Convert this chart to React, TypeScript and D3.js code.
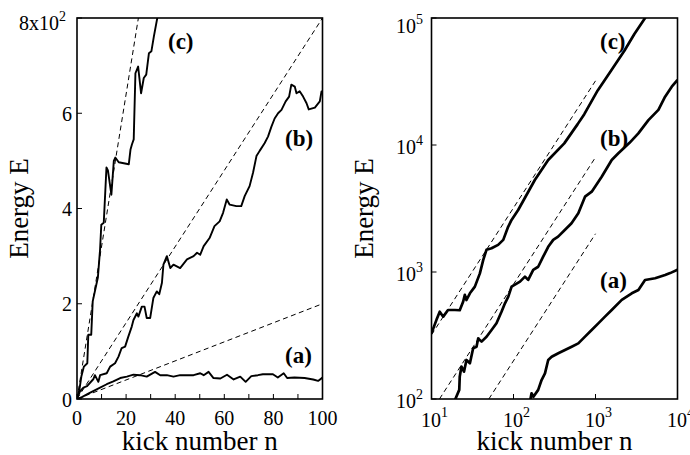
import React from 'react';
import * as d3 from 'd3';

// ---------- data ----------
// Left panel: linear, E vs n (n 0..100, E 0..800)
const linA: [number, number][] = [
  [0,0],[2,4],[4.8,12],[9.4,24],[12.1,31],[14.8,37],[17.6,44],[20.3,47],[23,51],[25.7,50],[28.4,47],
  [31.8,57],[33.9,50],[36.6,50],[39.3,47],[42,50],[44.8,50],[47.5,50],[50.2,54],[51.6,50],[53.6,57],
  [55.6,44],[58.4,43],[61.1,51],[63.8,41],[66.5,47],[68.7,36],[71,48],[73.7,50],[75.7,52],[79.8,52],
  [81.8,45],[84.2,54],[85.6,44],[88.6,45],[92.7,44],[96.2,41],[98.2,38],[100,45]
];
const linB: [number, number][] = [
  [0,0],[1.2,16],[2.6,24],[4.1,27],[6.7,42],[7.3,50],[8.7,36],[9.4,50],[12.1,54],[13.5,68],[15.5,75],
  [16.9,89],[18.2,107],[19.6,110],[20.9,131],[22.3,152],[23,166],[24.4,180],[25,173],[26.4,194],
  [27.5,194],[28.4,170],[29.8,170],[31.1,212],[32.5,226],[33.5,220],[34.6,244],[35.2,282],[36.6,300],
  [38,275],[39.3,282],[42,275],[44.8,293],[47.5,300],[48.9,307],[50.2,303],[51.6,321],[54,338],
  [56,363],[58.1,373],[59.5,391],[61,419],[62.2,408],[64.9,405],[66.9,405],[68.3,426],[70.3,447],
  [71.7,475],[73.1,510],[74.4,521],[76.4,537],[77.8,551],[79.2,572],[80.5,589],[81.9,600],[83.3,607],
  [85,625],[86.4,635],[87.3,660],[88.7,656],[89.4,642],[90.7,646],[92.1,635],[93.5,621],[94.4,608],
  [96.9,612],[98.9,625],[99.6,646],[100,646]
];
const linC: [number, number][] = [
  [0,0],[1,20],[1.8,48],[2.8,68],[4.2,75],[4.6,135],[5.8,135],[6.4,205],[8.5,255],[9.4,314],[9.9,366],
  [10.9,370],[12,486],[12.6,480],[14,429],[15,500],[15.6,507],[17,497],[21.1,493],[21.8,524],
  [22.4,535],[23.1,545],[23.8,684],[24.9,698],[26.1,642],[27.2,674],[28.2,681],[29.3,726],[30.3,730],
  [31.3,761],[32.7,800],[34,840]
];
// Right panel: log-log, E vs n (n 10..1e4, E 1e2..1e5)
const logA: [number, number][] = [
  [160,98],[166,111],[175,104],[200,118],[220,141],[242,159],[265,203],[292,215],[352,229],[424,243],
  [512,258],[617,274],[745,310],[898,349],[1082,394],[1305,445],[1577,502],[2090,603],[2770,680],
  [3335,722],[4020,865],[5330,893],[7060,946],[8130,980],[10000,1040]
];
const logB: [number, number][] = [
  [19.3,98],[21.8,118],[22.1,150],[23.2,180],[24.9,164],[26.7,203],[29.4,191],[32.2,251],[35.4,258],
  [37.1,300],[40.8,283],[46.9,309],[54,349],[62,395],[71.4,486],[78.7,567],[86.4,640],[94.8,767],
  [120,840],[138,920],[151,866],[174,1040],[200,1100],[230,1320],[265,1580],[305,1790],[350,1900],
  [425,2150],[510,2420],[617,2900],[745,3920],[900,4290],[1190,5620],[1577,7620],[1900,8600],
  [2600,10400],[3330,12350],[4420,15700],[5850,18900],[7060,24000],[8510,28800],[10000,32500]
];
const logC: [number, number][] = [
  [10,329],[11.5,420],[12.6,487],[13.9,445],[15.9,502],[19.3,502],[22.1,500],[24.3,583],[25.5,660],
  [26.7,602],[29.4,680],[33.8,767],[38.9,975],[42.7,1241],[46.8,1495],[54,1540],[64.9,1635],[75,1790],
  [86,2270],[94.7,2570],[114,3076],[182,5300],[265,7620],[416,10300],[606,14600],[730,17500],
  [1064,26900],[1546,38500],[2250,55200],[2980,74800],[3950,98000],[4100,102000]
];
// dashed reference lines E = D n
const slopes = [2, 8, 32];
const logDashRange: [number, number][] = [[50, 1000], [12.5, 1000], [10, 1000]];

const linXTicks = [0,10,20,30,40,50,60,70,80,90,100];
const linXLabels = [0,20,40,60,80,100];
const linYTicks = [0,200,400,600,800];
const linYLabels = ['0','2','4','6','8x10'];
const logXTicks = [10,100,1000,10000];
const logYTicks = [100,1000,10000,100000];

const FONT = "'Liberation Serif', 'Times New Roman', serif";

export default function App() {
  const top = 18, bottom = 399;
  const L = { x0: 77, x1: 322.5 };
  const R = { x0: 431.5, x1: 677.5 };

  const xl = d3.scaleLinear().domain([0, 100]).range([L.x0, L.x1]);
  const yl = d3.scaleLinear().domain([0, 800]).range([bottom, top]);
  const xr = d3.scaleLog().domain([10, 10000]).range([R.x0, R.x1]);
  const yr = d3.scaleLog().domain([100, 100000]).range([bottom, top]);

  const lineL = d3.line<[number, number]>().x(d => xl(d[0])).y(d => yl(d[1]));
  const lineR = d3.line<[number, number]>().x(d => xr(d[0])).y(d => yr(d[1]));

  const tick = 5;

  return (
    <svg width={690} height={455} style={{ position: 'absolute', left: 0, top: 0, background: '#fff' }}
      fontFamily={FONT}>
      <defs>
        <clipPath id="clipL"><rect x={L.x0} y={top} width={L.x1 - L.x0} height={bottom - top} /></clipPath>
        <clipPath id="clipR"><rect x={R.x0} y={top} width={R.x1 - R.x0} height={bottom - top} /></clipPath>
      </defs>
      <rect width={690} height={455} fill="#fff" />

      {/* ---------- LEFT PANEL ---------- */}
      <g clipPath="url(#clipL)">
        {slopes.map((s, i) => (
          <path key={i} d={lineL([[0, 0], [100, s * 100]]) || ''} fill="none" stroke="#000"
            strokeWidth={1} strokeDasharray="5,3.5" />
        ))}
        {[linA, linB, linC].map((d, i) => (
          <path key={i} d={lineL(d) || ''} fill="none" stroke="#000" strokeWidth={1.9} strokeLinejoin="round" />
        ))}
      </g>
      <rect x={L.x0} y={top} width={L.x1 - L.x0} height={bottom - top} fill="none" stroke="#000" strokeWidth={1.6} />
      {linXTicks.map(t => (
        <line key={t} x1={xl(t)} x2={xl(t)} y1={bottom} y2={bottom - tick} stroke="#000" strokeWidth={1} />
      ))}
      {linYTicks.map(t => (
        <line key={t} x1={L.x0} x2={L.x0 + tick} y1={yl(t)} y2={yl(t)} stroke="#000" strokeWidth={1} />
      ))}
      {linXLabels.map(t => (
        <text key={t} x={xl(t)} y={425} fontSize={20} textAnchor="middle">{t}</text>
      ))}
      {linYTicks.map((t, i) => i < linYTicks.length - 1 ? (
        <text key={t} x={72} y={yl(t) + 7.5} fontSize={20} textAnchor="end">{linYLabels[i]}</text>
      ) : (
        <text key={t} x={66} y={30} fontSize={20} textAnchor="end">
          <tspan>{linYLabels[i]}</tspan><tspan dy={-9} fontSize={14}>2</tspan>
        </text>
      ))}
      <text x={(L.x0 + L.x1) / 2} y={450} fontSize={27} textAnchor="middle">kick number n</text>
      <text transform={`translate(28,${(top + bottom) / 2}) rotate(-90)`} fontSize={27} textAnchor="middle">Energy E</text>
      <text x={168} y={49} fontSize={23} fontWeight="bold">(c)</text>
      <text x={285} y={146} fontSize={23} fontWeight="bold">(b)</text>
      <text x={285} y={363} fontSize={23} fontWeight="bold">(a)</text>

      {/* ---------- RIGHT PANEL ---------- */}
      <g clipPath="url(#clipR)">
        {slopes.map((s, i) => (
          <path key={i} d={lineR(logDashRange[i].map(n => [n, s * n] as [number, number])) || ''}
            fill="none" stroke="#000" strokeWidth={1} strokeDasharray="5,3.5" />
        ))}
        {[logA, logB, logC].map((d, i) => (
          <path key={i} d={lineR(d) || ''} fill="none" stroke="#000" strokeWidth={2.7} strokeLinejoin="round" />
        ))}
      </g>
      <rect x={R.x0} y={top} width={R.x1 - R.x0} height={bottom - top} fill="none" stroke="#000" strokeWidth={1.6} />
      {logXTicks.map(t => (
        <line key={t} x1={xr(t)} x2={xr(t)} y1={bottom} y2={bottom - tick} stroke="#000" strokeWidth={1} />
      ))}
      {logYTicks.map(t => (
        <line key={t} x1={R.x0} x2={R.x0 + tick} y1={yr(t)} y2={yr(t)} stroke="#000" strokeWidth={1} />
      ))}
      {logXTicks.map(t => (
        <text key={t} x={xr(t) + 3} y={426.5} fontSize={20} textAnchor="middle">
          <tspan>10</tspan><tspan dy={-10} fontSize={14}>{Math.round(Math.log10(t))}</tspan>
        </text>
      ))}
      {logYTicks.map((t, i) => (
        <text key={t} x={423} y={i === logYTicks.length - 1 ? 33 : Math.min(yr(t) + 9, 410)} fontSize={20} textAnchor="end">
          <tspan>10</tspan><tspan dy={-9} fontSize={14}>{Math.round(Math.log10(t))}</tspan>
        </text>
      ))}
      <text x={(R.x0 + R.x1) / 2} y={450} fontSize={27} textAnchor="middle">kick number n</text>
      <text transform={`translate(373,${(top + bottom) / 2}) rotate(-90)`} fontSize={27} textAnchor="middle">Energy E</text>
      <text x={600} y={49} fontSize={23} fontWeight="bold">(c)</text>
      <text x={600} y={146} fontSize={23} fontWeight="bold">(b)</text>
      <text x={600} y={288} fontSize={23} fontWeight="bold">(a)</text>
    </svg>
  );
}
